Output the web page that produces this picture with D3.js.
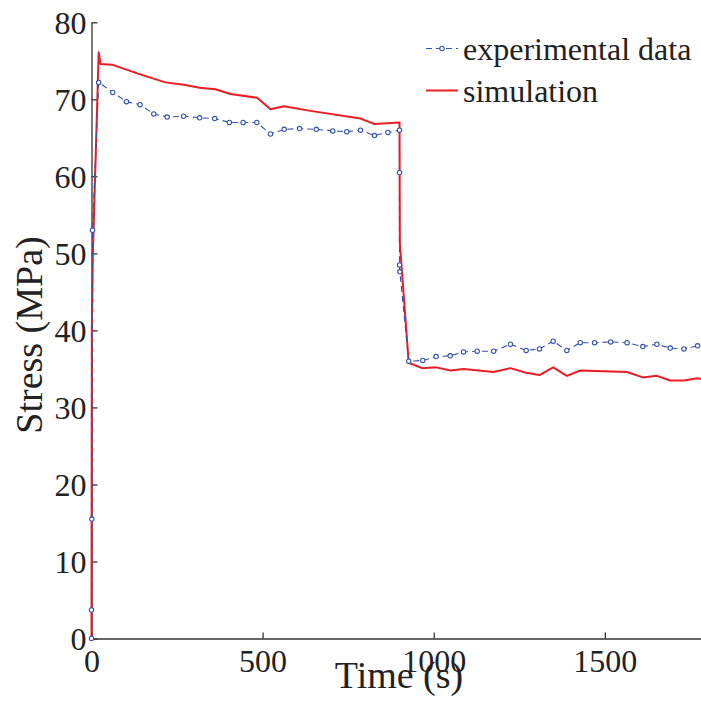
<!DOCTYPE html>
<html>
<head>
<meta charset="utf-8">
<script src="https://cdn.jsdelivr.net/npm/d3@7"></script>
<style>
  body { margin: 0; background: #fff; }
  svg text { font-family: "Liberation Serif", "Times New Roman", serif; fill: #222; }
</style>
</head>
<body>
<svg id="chart" width="701" height="714"></svg>
<script>
// experimental data (time in s, stress in MPa)
const expTime = [0, 0, 1, 3, 21, 62, 102, 142, 182, 221, 269, 316, 360, 403, 443, 483, 523, 563, 608,
  657, 705, 746, 786, 827, 866, 900, 900, 900, 901, 927, 968, 1007, 1048, 1087, 1127, 1175, 1224,
  1270, 1309, 1349, 1389, 1428, 1470, 1517, 1565, 1611, 1652, 1691, 1731, 1771];
const expStress = [0, 3.7, 15.5, 53, 72.2, 70.9, 69.7, 69.3, 68.1, 67.7, 67.8, 67.6, 67.5, 67.0, 67.0, 67.0, 65.5, 66.1, 66.2,
  66.1, 65.9, 65.8, 66.0, 65.3, 65.7, 66.0, 60.5, 48.5, 47.6, 36.0, 36.1, 36.6, 36.7, 37.2, 37.3, 37.3, 38.2,
  37.4, 37.6, 38.6, 37.4, 38.4, 38.4, 38.5, 38.4, 37.9, 38.2, 37.7, 37.6, 38.0];

// simulation
const simTime = [0, 1, 4, 21, 26, 60, 138, 216, 270, 316, 362, 406, 484, 523, 562, 640, 786, 827, 900,
  901, 927, 966, 1007, 1049, 1087, 1175, 1224, 1270, 1309, 1349, 1389, 1428, 1565, 1611, 1652, 1691, 1731, 1771, 1790];
const simStress = [0, 40, 50, 76.1, 74.6, 74.5, 73.3, 72.2, 71.9, 71.5, 71.3, 70.7, 70.2, 68.7, 69.1, 68.5, 67.5, 66.8, 67.0,
  51.3, 35.8, 35.1, 35.2, 34.8, 35.0, 34.6, 35.1, 34.5, 34.2, 35.2, 34.1, 34.8, 34.6, 33.9, 34.1, 33.5, 33.5, 33.8, 33.6];

const xTicks = [0, 500, 1000, 1500];
const yTicks = [0, 10, 20, 30, 40, 50, 60, 70, 80];
const legendLabels = ["experimental data", "simulation"];

const blue = "#3552b0";
const red = "#ed1c24";

const svg = d3.select("#chart");

const x = d3.scaleLinear().domain([0, 1800]).range([91.5, 707.5]);
const y = d3.scaleLinear().domain([0, 80]).range([638.5, 22.3]);

// axes (left and bottom only, ticks pointing inward)
const xAxis = svg.append("g")
    .attr("transform", "translate(0," + y(0) + ")")
    .call(d3.axisBottom(x).tickValues(xTicks).tickFormat(d3.format("d"))
        .tickSize(-6).tickSizeOuter(0).tickPadding(0));
xAxis.selectAll("text")
    .attr("font-size", "32px")
    .attr("dy", null)
    .attr("y", 33);

const yAxis = svg.append("g")
    .attr("transform", "translate(" + x(0) + ",0)")
    .call(d3.axisLeft(y).tickValues(yTicks).tickSize(-6).tickSizeOuter(0).tickPadding(5));
yAxis.selectAll("text")
    .attr("font-size", "32px")
    .attr("dy", "0.34em");

svg.selectAll(".domain, .tick line")
    .attr("stroke", "#333")
    .attr("stroke-width", 1.3);

// axis titles
svg.append("text")
    .attr("x", 399)
    .attr("y", 688)
    .attr("text-anchor", "middle")
    .attr("font-size", "38px")
    .text("Time (s)");

svg.append("text")
    .attr("transform", "translate(42,335) rotate(-90)")
    .attr("text-anchor", "middle")
    .attr("font-size", "38px")
    .text("Stress (MPa)");

// lines
const expData = expTime.map((t, i) => ({t: t, v: expStress[i]}));
const simData = simTime.map((t, i) => ({t: t, v: simStress[i]}));

const line = d3.line()
    .x(d => x(d.t))
    .y(d => y(d.v));

svg.append("path")
    .datum(simData)
    .attr("fill", "none")
    .attr("stroke", red)
    .attr("stroke-width", 2)
    .attr("stroke-linejoin", "round")
    .attr("d", line);

svg.append("path")
    .datum(expData)
    .attr("fill", "none")
    .attr("stroke", blue)
    .attr("stroke-width", 1.1)
    .attr("stroke-dasharray", "6,4")
    .attr("d", line);

svg.selectAll(".exp-pt")
    .data(expData)
    .enter()
    .append("circle")
    .attr("class", "exp-pt")
    .attr("cx", d => x(d.t))
    .attr("cy", d => y(d.v))
    .attr("r", 2.2)
    .attr("fill", "#fff")
    .attr("stroke", blue)
    .attr("stroke-width", 1.1);

// legend
const legend = svg.append("g");
const legendRows = legend.selectAll("g")
    .data(legendLabels)
    .enter()
    .append("g")
    .attr("transform", (d, i) => "translate(426," + (48.5 + i * 42) + ")");

legendRows.append("line")
    .attr("x1", 0).attr("x2", 32)
    .attr("y1", 0).attr("y2", 0)
    .attr("stroke", (d, i) => i == 0 ? blue : red)
    .attr("stroke-width", (d, i) => i == 0 ? 1.1 : 2)
    .attr("stroke-dasharray", (d, i) => i == 0 ? "6,4" : null);

legendRows.filter((d, i) => i == 0)
    .append("circle")
    .attr("cx", 16).attr("cy", 0).attr("r", 2.2)
    .attr("fill", "#fff")
    .attr("stroke", blue)
    .attr("stroke-width", 1.1);

legendRows.append("text")
    .attr("x", 37)
    .attr("y", 11)
    .attr("font-size", "32px")
    .text(d => d);
</script>
</body>
</html>
